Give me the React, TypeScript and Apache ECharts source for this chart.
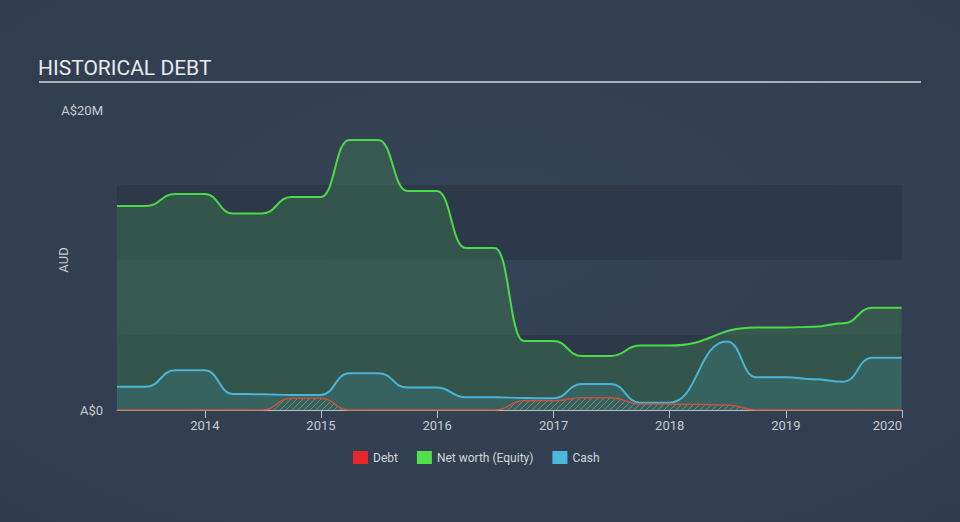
import React, { useEffect, useRef } from 'react';
import * as echarts from 'echarts';

// Quarter-end dates for every series point
const quarterDates = [
  '2013-03-31', '2013-06-30', '2013-09-30', '2013-12-31',
  '2014-03-31', '2014-06-30', '2014-09-30', '2014-12-31',
  '2015-03-31', '2015-06-30', '2015-09-30', '2015-12-31',
  '2016-03-31', '2016-06-30', '2016-09-30', '2016-12-31',
  '2017-03-31', '2017-06-30', '2017-09-30', '2017-12-31',
  '2018-03-31', '2018-06-30', '2018-09-30', '2018-12-31',
  '2019-03-31', '2019-06-30', '2019-09-30', '2019-12-31',
];

// Values in A$ millions (null = no reported point)
const debtValues = [
  0, 0, 0, 0,
  0, 0, 0.78, 0.78,
  0, 0, 0, 0,
  0, 0, 0.62, 0.62,
  0.82, 0.82, 0.4, 0.4,
  0.38, 0.33, 0, 0,
  0, 0, 0, 0,
];
const netWorthValues = [
  13.6, 13.6, 14.4, 14.4,
  13.1, 13.1, 14.2, 14.2,
  18.0, 18.0, 14.6, 14.6,
  10.8, 10.8, 4.6, 4.6,
  3.6, 3.6, 4.3, 4.3,
  null, null, 5.5, 5.5,
  5.55, 5.78, 6.82, 6.82,
];
const cashValues = [
  1.55, 1.55, 2.65, 2.65,
  1.07, 1.05, 1.0, 1.0,
  2.45, 2.45, 1.5, 1.5,
  0.85, 0.85, 0.8, 0.78,
  1.73, 1.73, 0.49, 0.49,
  null, 4.56, 2.18, 2.18,
  2.05, 1.89, 3.49, 3.49,
];

const seriesNames = ['Debt', 'Net worth (Equity)', 'Cash'];
const legendColors = ['#e8262a', '#4fe04a', '#4ab8e0'];
const yMin = 0;
const yMax = 20;
const xMin = '2013-03-31';
const xMax = '2020-01-01';

function zip(values: (number | null)[]) {
  const out: [string, number][] = [];
  values.forEach((v, i) => {
    if (v !== null) out.push([quarterDates[i], v]);
  });
  return out;
}

function makeHatch() {
  const c = document.createElement('canvas');
  c.width = 6;
  c.height = 6;
  const ctx = c.getContext('2d');
  if (ctx) {
    ctx.fillStyle = 'rgba(60,90,90,0.35)';
    ctx.fillRect(0, 0, 6, 6);
    ctx.strokeStyle = 'rgba(170,170,170,0.75)';
    ctx.lineWidth = 1;
    ctx.beginPath();
    ctx.moveTo(0, 6);
    ctx.lineTo(6, 0);
    ctx.moveTo(-3, 3);
    ctx.lineTo(3, -3);
    ctx.moveTo(3, 9);
    ctx.lineTo(9, 3);
    ctx.stroke();
  }
  return c;
}

export default function App() {
  const ref = useRef<HTMLDivElement>(null);

  useEffect(() => {
    if (!ref.current) return;
    const chart = echarts.init(ref.current, null, { renderer: 'svg' });
    const font = 'Roboto';
    const labelColor = '#c9cdd2';

    chart.setOption({
      animation: false,
      backgroundColor: {
        type: 'radial',
        x: 0.5,
        y: 0.45,
        r: 0.75,
        colorStops: [
          { offset: 0, color: '#354457' },
          { offset: 1, color: '#303c4c' },
        ],
      },
      textStyle: { fontFamily: font },
      title: {
        text: 'HISTORICAL DEBT',
        left: 38,
        top: 57,
        padding: 0,
        textStyle: { color: '#e8eaec', fontSize: 21, fontWeight: 'normal', fontFamily: font },
      },
      graphic: [
        {
          type: 'line',
          shape: { x1: 39, y1: 82, x2: 921, y2: 82 },
          style: { stroke: '#a9b0b8', lineWidth: 2 },
          silent: true,
        },
      ],
      legend: {
        data: seriesNames.map((n, i) => ({ name: n, itemStyle: { color: legendColors[i] } })),
        icon: 'rect',
        itemWidth: 15,
        itemHeight: 13,
        itemGap: 19,
        left: 353,
        top: 451,
        padding: 0,
        textStyle: { color: '#d3d6da', fontSize: 12, fontFamily: font },
      },
      grid: { left: 117, right: 58, top: 110, bottom: 112 },
      xAxis: {
        type: 'time',
        min: xMin,
        max: xMax,
        axisLine: { show: true, lineStyle: { color: '#b9bec5', width: 1 } },
        axisTick: { show: true, length: 8, lineStyle: { color: '#b9bec5' } },
        axisLabel: {
          color: labelColor,
          fontSize: 13,
          margin: 9,
          formatter: '{yyyy}',
          showMaxLabel: true,
          alignMaxLabel: 'right',
          hideOverlap: false,
        },
        splitLine: { show: false },
      },
      yAxis: [
        {
          type: 'value',
          min: yMin,
          max: yMax,
          interval: 20,
          name: 'AUD',
          nameLocation: 'middle',
          nameGap: 47,
          nameMoveOverlap: false,
          nameTextStyle: { color: labelColor, fontSize: 13, fontFamily: font },
          axisLine: { show: false },
          axisTick: { show: false },
          splitLine: { show: false },
          axisLabel: {
            color: labelColor,
            fontSize: 13,
            margin: 14,
            formatter: (v: number) => (v === 0 ? 'A$0' : `A$${v}M`),
          },
        },
        {
          type: 'value',
          min: yMin,
          max: 20,
          interval: 5,
          axisLine: { show: false },
          axisTick: { show: false },
          axisLabel: { show: false },
          splitLine: { show: false },
          splitArea: {
            show: true,
            areaStyle: { color: ['#2d3949', 'rgba(0,0,0,0)', '#2d3949', 'rgba(0,0,0,0)'] },
          },
        },
      ],
      series: [
        {
          name: 'Net worth (Equity)',
          type: 'line',
          data: zip(netWorthValues),
          smooth: 0.5,
          smoothMonotone: 'x',
          connectNulls: true,
          showSymbol: false,
          symbol: 'none',
          itemStyle: { color: legendColors[1] },
          lineStyle: { color: '#4cdb48', width: 2 },
          areaStyle: { color: 'rgba(60,113,79,0.74)' },
          z: 2,
        },
        {
          name: 'Cash',
          type: 'line',
          data: zip(cashValues),
          smooth: 0.5,
          smoothMonotone: 'x',
          connectNulls: true,
          showSymbol: false,
          symbol: 'none',
          itemStyle: { color: legendColors[2] },
          lineStyle: { color: '#4ab5d6', width: 2 },
          areaStyle: { color: 'rgba(61,127,133,0.5)' },
          z: 3,
        },
        {
          name: 'Debt',
          type: 'line',
          data: zip(debtValues),
          smooth: 0.5,
          smoothMonotone: 'x',
          showSymbol: false,
          symbol: 'none',
          itemStyle: { color: legendColors[0] },
          lineStyle: { color: '#c9533d', width: 1.5 },
          areaStyle: { color: { image: makeHatch(), repeat: 'repeat' } },
          z: 4,
        },
      ],
    });

    return () => chart.dispose();
  }, []);

  return (
    <div
      ref={ref}
      style={{ position: 'fixed', left: 0, top: 0, width: 960, height: 522, background: '#334050' }}
    />
  );
}
